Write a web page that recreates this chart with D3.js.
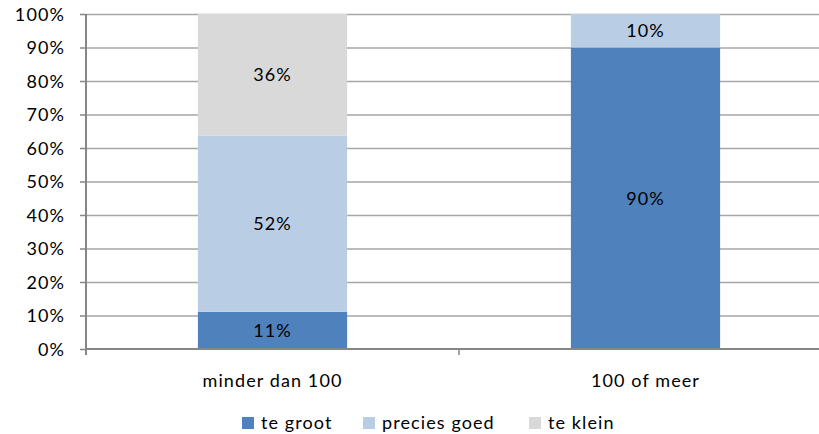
<!DOCTYPE html>
<html>
<head>
<meta charset="utf-8">
<script src="https://cdn.jsdelivr.net/npm/d3@7"></script>
<style>
  html, body { margin: 0; padding: 0; background: #fff; }
  svg { display: block; }
  text { font-family: Lato, "Open Sans", sans-serif; font-size: 18px; fill: #000; letter-spacing: 1.1px; }
</style>
</head>
<body>
<svg id="chart" width="819" height="434"></svg>
<script>
// Categories and series (percent of respondents per group)
const categories = ["minder dan 100", "100 of meer"];
const seriesNames = ["te groot", "precies goed", "te klein"];
const teGroot = [11, 90];
const preciesGoed = [52, 10];
const teKlein = [36, 0];
const seriesColors = ["#4F81BD", "#B9CDE5", "#D9D9D9"];
const yTicks = [0, 0.1, 0.2, 0.3, 0.4, 0.5, 0.6, 0.7, 0.8, 0.9, 1];

const svg = d3.select("#chart");
const margin = { left: 86, top: 14, bottom: 349, right: 832 };

const rows = categories.map((c, i) => ({
  category: c,
  "te groot": teGroot[i],
  "precies goed": preciesGoed[i],
  "te klein": teKlein[i]
}));

// 100% stacked: each column normalised to its total
const stack = d3.stack().keys(seriesNames).offset(d3.stackOffsetExpand);
const layers = stack(rows);

const x = d3.scaleBand()
  .domain(categories)
  .range([margin.left, margin.right])
  .paddingInner(0.6)
  .paddingOuter(0.3);

const xCat = d3.scaleBand().domain(categories).range([margin.left, margin.right]).padding(0);

const y = d3.scaleLinear().domain([0, 1]).range([margin.bottom, margin.top]);

// Gridlines
svg.append("g")
  .selectAll("line")
  .data(yTicks.filter(t => t > 0))
  .join("line")
  .attr("x1", margin.left)
  .attr("x2", 819)
  .attr("y1", d => y(d) + 0.5)
  .attr("y2", d => y(d) + 0.5)
  .attr("stroke", "#a6a6a6")
  .attr("stroke-width", 1.3);

// Bars
svg.append("g")
  .selectAll("g")
  .data(layers)
  .join("g")
  .attr("fill", (d, i) => seriesColors[i])
  .selectAll("rect")
  .data(d => d)
  .join("rect")
  .attr("x", d => x(d.data.category))
  .attr("width", x.bandwidth())
  .attr("y", d => y(d[1]))
  .attr("height", d => y(d[0]) - y(d[1]));

// Data labels
const labelData = [];
layers.forEach((layer, si) => {
  layer.forEach((d, ci) => {
    const raw = [teGroot, preciesGoed, teKlein][si][ci];
    if (raw > 0) labelData.push({ cat: d.data.category, mid: (d[0] + d[1]) / 2, raw });
  });
});
svg.append("g")
  .selectAll("text")
  .data(labelData)
  .join("text")
  .attr("x", d => x(d.cat) + x.bandwidth() / 2)
  .attr("y", d => y(d.mid))
  .attr("dy", "0.35em")
  .attr("text-anchor", "middle")
  .text(d => d.raw + "%");

// Y axis
const yAxis = svg.append("g")
  .attr("transform", `translate(${margin.left},0)`)
  .call(d3.axisLeft(y).tickValues(yTicks).tickFormat(d3.format(".0%")).tickSize(6).tickPadding(15));
yAxis.select(".domain").remove();
yAxis.selectAll(".tick line").attr("stroke", "#868686").attr("stroke-width", 1.5);
yAxis.selectAll(".tick text").attr("font-family", null).attr("font-size", null).attr("dy", "0.36em");
yAxis.append("line")
  .attr("x1", 0).attr("x2", 0)
  .attr("y1", margin.top).attr("y2", margin.bottom + 6)
  .attr("stroke", "#868686").attr("stroke-width", 2);

// X axis
const xAxis = svg.append("g")
  .attr("transform", `translate(0,${margin.bottom})`)
  .call(d3.axisBottom(xCat).tickSize(0).tickPadding(25));
xAxis.select(".domain").remove();
xAxis.selectAll(".tick text").attr("font-family", null).attr("font-size", null);
xAxis.append("line")
  .attr("x1", margin.left).attr("x2", 819)
  .attr("y1", 0).attr("y2", 0)
  .attr("stroke", "#868686").attr("stroke-width", 2);
xAxis.selectAll(".cat-sep")
  .data([margin.left, xCat(categories[1]), margin.right])
  .join("line")
  .attr("class", "cat-sep")
  .attr("x1", d => d).attr("x2", d => d)
  .attr("y1", 0).attr("y2", 6)
  .attr("stroke", "#868686").attr("stroke-width", 1.5);

// Legend
const legendX = [242, 363, 529];
const legend = svg.append("g")
  .selectAll("g")
  .data(seriesNames)
  .join("g")
  .attr("transform", (d, i) => `translate(${legendX[i]},417)`);
legend.append("rect")
  .attr("width", 12).attr("height", 12)
  .attr("fill", (d, i) => seriesColors[i]);
legend.append("text")
  .attr("x", 19)
  .attr("y", 11.5)
  .text(d => d);
</script>
</body>
</html>
